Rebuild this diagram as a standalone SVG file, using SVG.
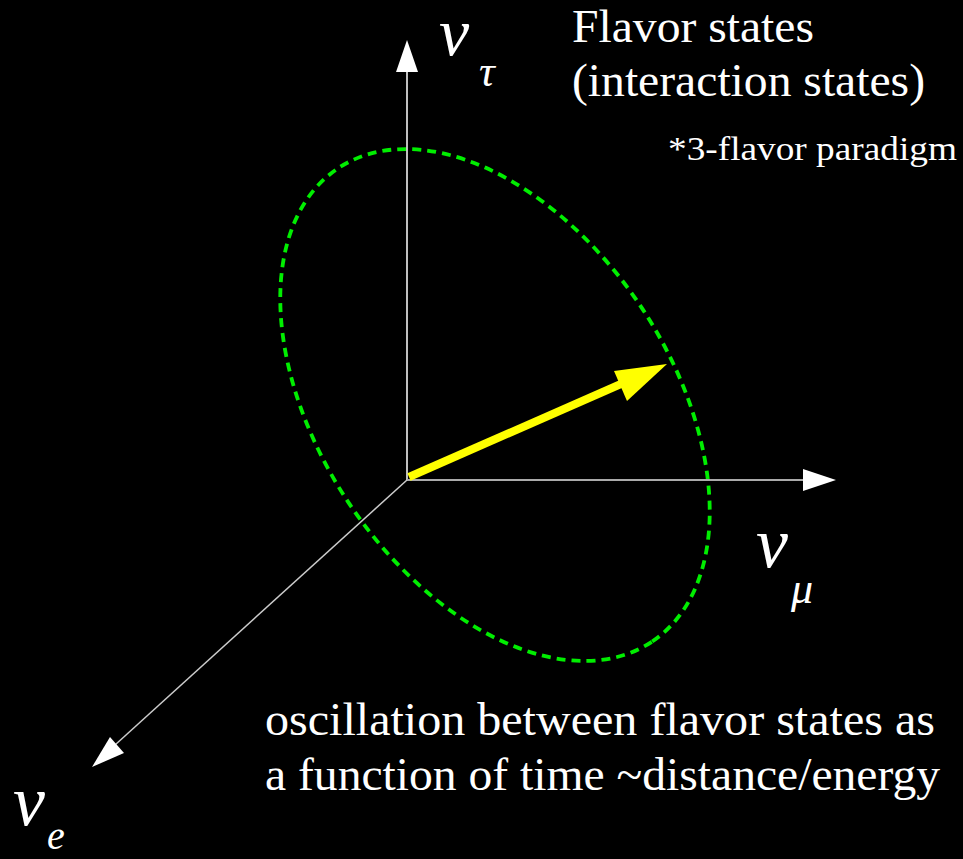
<svg xmlns="http://www.w3.org/2000/svg" width="963" height="859" viewBox="0 0 963 859">
<style>
.t{font-family:"Liberation Serif","Times New Roman",serif;fill:#fff}
.sym{font-family:"Liberation Serif","Times New Roman",serif;font-style:italic;fill:#fff}
</style>
<rect width="963" height="859" fill="#000"/>
<g id="orbit">
<ellipse cx="495" cy="405" rx="284" ry="176" transform="rotate(56.5 495 405)" fill="none" stroke="#00ee00" stroke-width="3.8" stroke-dasharray="9 6"/>
</g>
<g id="connectors">
<line x1="407" y1="480" x2="407" y2="70" stroke="#fff" stroke-width="1.5"/>
<polygon points="407,40 396,72 418,72" fill="#fff"/>
<line x1="407" y1="480" x2="806" y2="480" stroke="#aaa" stroke-width="2"/>
<polygon points="836,480 803,469 803,491" fill="#fff"/>
<line x1="407" y1="480" x2="115" y2="745" stroke="#ccc" stroke-width="1.5"/>
<polygon points="92,767 110,737 124,753" fill="#fff"/>
<line x1="409" y1="477" x2="630" y2="380" stroke="#ffff00" stroke-width="8"/>
<polygon points="667,364 614,371 627,401" fill="#ffff00"/>
</g>
<g id="label-tau">
<text class="sym" x="439" y="55" font-size="68">ν</text>
<text class="sym" x="479" y="86" font-size="44">τ</text>
</g>
<g id="label-mu">
<text class="sym" x="756" y="567" font-size="72">ν</text>
<text class="sym" x="791" y="603" font-size="44">μ</text>
</g>
<g id="label-e">
<text class="sym" x="13" y="825" font-size="72">ν</text>
<text class="sym" x="47" y="849" font-size="40">e</text>
</g>
<g id="title">
<text class="t" x="572" y="42" font-size="46" textLength="242" lengthAdjust="spacingAndGlyphs">Flavor states</text>
<text class="t" x="572" y="96" font-size="46" textLength="353" lengthAdjust="spacingAndGlyphs">(interaction states)</text>
<text class="t" x="668" y="160" font-size="34" textLength="289" lengthAdjust="spacingAndGlyphs">*3-flavor paradigm</text>
</g>
<g id="caption">
<text class="t" x="265" y="735" font-size="46" textLength="670" lengthAdjust="spacingAndGlyphs">oscillation between flavor states as</text>
<text class="t" x="265" y="790" font-size="46" textLength="675" lengthAdjust="spacingAndGlyphs">a function of time ~distance/energy</text>
</g>
</svg>
